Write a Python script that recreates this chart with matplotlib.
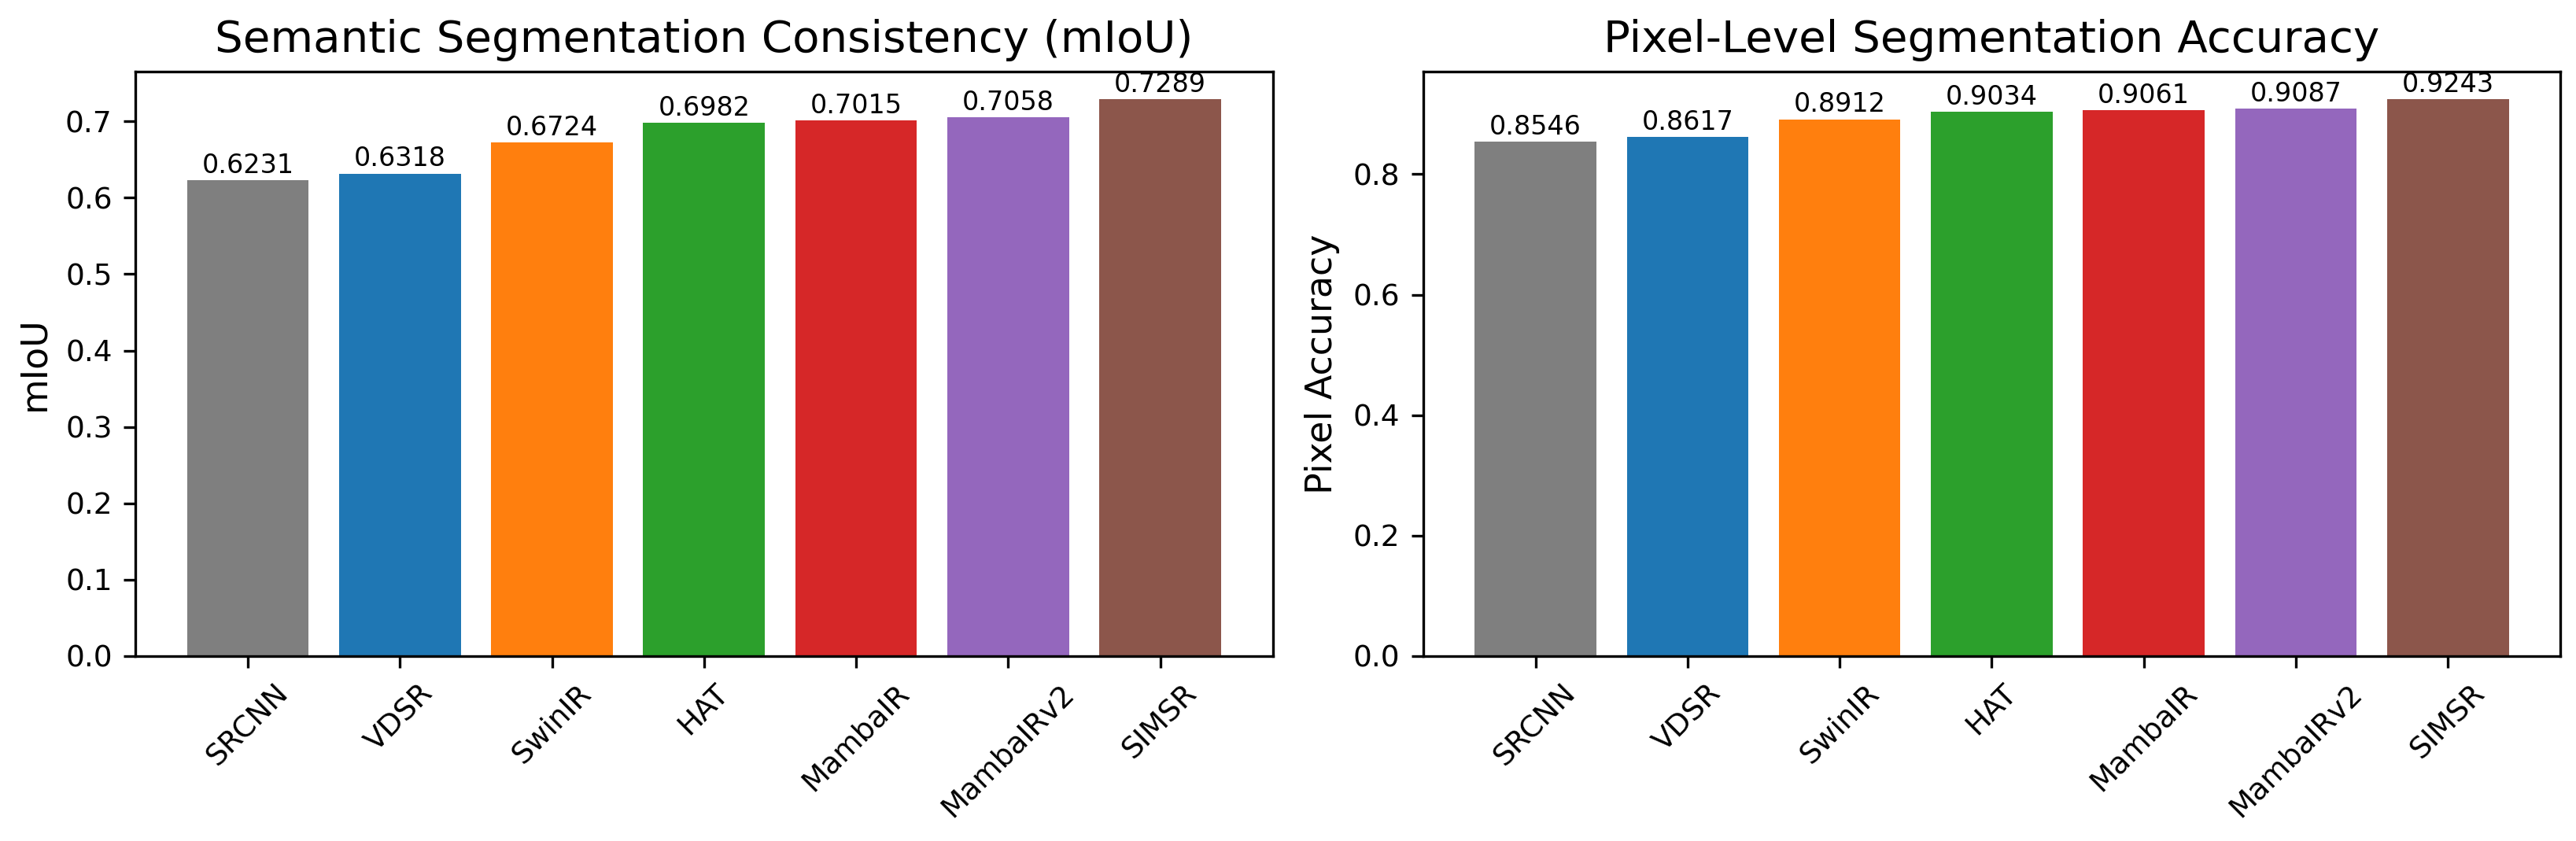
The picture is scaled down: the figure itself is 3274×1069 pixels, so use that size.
import matplotlib
matplotlib.use("Agg")
import matplotlib.pyplot as plt

methods = ["SRCNN", "VDSR", "SwinIR", "HAT", "MambaIR", "MambaIRv2", "SIMSR"]
miou = [0.6231, 0.6318, 0.6724, 0.6982, 0.7015, 0.7058, 0.7289]
pixel_acc = [0.8546, 0.8617, 0.8912, 0.9034, 0.9061, 0.9087, 0.9243]
bar_colors = ["tab:gray", "tab:blue", "tab:orange", "tab:green",
              "tab:red", "tab:purple", "tab:brown"]

fig, axes = plt.subplots(1, 2, figsize=(3274 / 300, 1069 / 300), dpi=300)
fig.subplots_adjust(left=0.0525, right=0.994, bottom=0.22, top=0.915, wspace=0.132)

panels = [
    (axes[0], miou, "Semantic Segmentation Consistency (mIoU)", "mIoU"),
    (axes[1], pixel_acc, "Pixel-Level Segmentation Accuracy", "Pixel Accuracy"),
]

for ax, values, title, ylabel in panels:
    bars = ax.bar(methods, values, color=bar_colors, width=0.8)
    ax.bar_label(bars, fmt="%.4f", padding=0.5, fontsize=8)
    ax.set_title(title, fontsize=13.5)
    ax.set_ylabel(ylabel, fontsize=11)
    ax.set_ylim(0, max(values) * 1.05)
    ax.tick_params(axis="both", labelsize=9)
    ax.tick_params(axis="x", labelrotation=45)

fig.savefig("out.png", dpi=300)
